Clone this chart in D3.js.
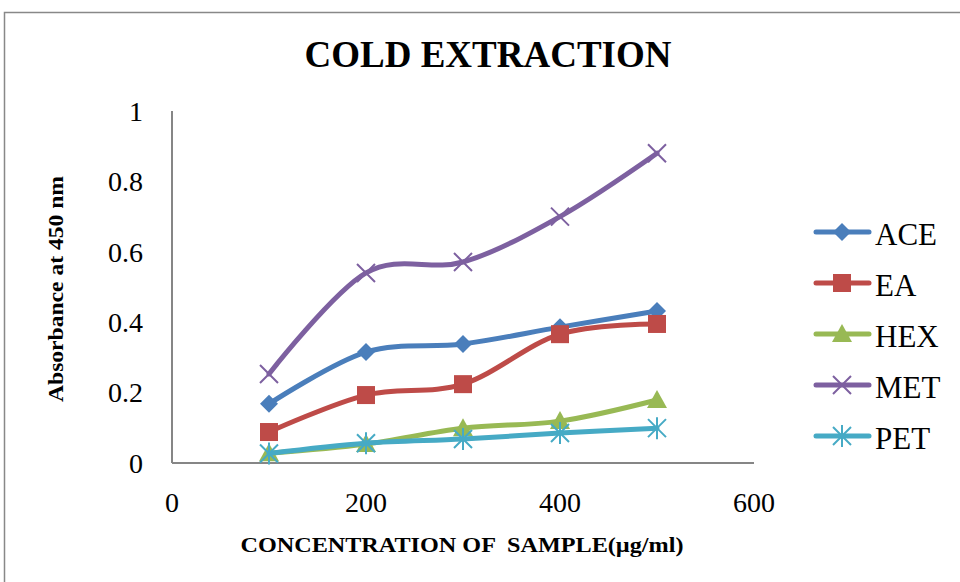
<!DOCTYPE html>
<html>
<head>
<meta charset="utf-8">
<script src="https://cdn.jsdelivr.net/npm/d3@7"></script>
<style>
  body { margin: 0; background: #fff; }
  svg text { font-family: "Liberation Serif", "Times New Roman", serif; fill: #000; }
</style>
</head>
<body>
<div id="chart"></div>
<script>
// Data
const concentrations = [100, 200, 300, 400, 500];
const seriesNames = ["ACE", "EA", "HEX", "MET", "PET"];
const ace = [0.168, 0.315, 0.338, 0.386, 0.432];
const ea  = [0.088, 0.193, 0.224, 0.366, 0.395];
const hex = [0.028, 0.054, 0.099, 0.119, 0.179];
const met = [0.253, 0.540, 0.571, 0.700, 0.880];
const pet = [0.027, 0.056, 0.068, 0.085, 0.099];
const xTicks = [0, 200, 400, 600];
const yTicks = [0, 0.2, 0.4, 0.6, 0.8, 1];

const colors = ["#4a7ebb", "#be4b48", "#98b954", "#7d60a0", "#46aac5"];
const values = [ace, ea, hex, met, pet];

const W = 960, H = 582;

let svg = d3.select("#chart").append("svg")
    .attr("width", W)
    .attr("height", H);

// outer frame (runs off the page on right and bottom)
svg.append("rect")
    .attr("x", 4.5).attr("y", 12.5)
    .attr("width", 1000).attr("height", 700)
    .attr("fill", "none")
    .attr("stroke", "#888")
    .attr("stroke-width", 1.5);

let x = d3.scaleLinear().domain([0, 600]).range([172, 754]);
let y = d3.scaleLinear().domain([0, 1]).range([463, 111]);

// axes lines
svg.append("line")
    .attr("x1", x(0)).attr("x2", x(0))
    .attr("y1", y(1)).attr("y2", y(0))
    .style("stroke", "#868686").style("stroke-width", "2px");
svg.append("line")
    .attr("x1", x(0)).attr("x2", x(600))
    .attr("y1", y(0)).attr("y2", y(0))
    .style("stroke", "#868686").style("stroke-width", "2px");

// tick labels
svg.selectAll(".ytick")
    .data(yTicks)
    .join("text")
    .attr("class", "ytick")
    .attr("x", 143)
    .attr("y", d => y(d))
    .attr("dy", "0.35em")
    .attr("text-anchor", "end")
    .style("font-size", "28px")
    .text(d => d3.format("~g")(d));

svg.selectAll(".xtick")
    .data(xTicks)
    .join("text")
    .attr("class", "xtick")
    .attr("x", d => x(d))
    .attr("y", 512)
    .attr("text-anchor", "middle")
    .style("font-size", "28px")
    .text(d => d);

// titles
svg.append("text")
    .attr("x", 488).attr("y", 67)
    .attr("text-anchor", "middle")
    .style("font-size", "37px")
    .style("font-weight", "bold")
    .text("COLD EXTRACTION");

svg.append("text")
    .attr("transform", "translate(63,289) rotate(-90)")
    .attr("text-anchor", "middle")
    .attr("textLength", 226)
    .attr("lengthAdjust", "spacingAndGlyphs")
    .style("font-size", "21px")
    .style("font-weight", "bold")
    .text("Absorbance at 450 nm");

svg.append("text")
    .attr("x", 462).attr("y", 552)
    .attr("text-anchor", "middle")
    .attr("textLength", 443)
    .attr("lengthAdjust", "spacingAndGlyphs")
    .attr("xml:space", "preserve")
    .style("font-size", "21px")
    .style("font-weight", "bold")
    .text("CONCENTRATION OF  SAMPLE(\u00b5g/ml)");

// marker drawing
function marker(g, name, color) {
  if (name === "ACE") {
    g.append("path").attr("d", "M0,-9L9,0L0,9L-9,0Z").attr("fill", color);
  } else if (name === "EA") {
    g.append("rect").attr("x", -9).attr("y", -9).attr("width", 18).attr("height", 18).attr("fill", color);
  } else if (name === "HEX") {
    g.append("path").attr("d", "M0,-10L10,8L-10,8Z").attr("fill", color);
  } else if (name === "MET") {
    g.append("path").attr("d", "M-9,-9L9,9M-9,9L9,-9").attr("stroke", color).attr("stroke-width", 2);
  } else {
    g.append("path").attr("d", "M-9,-9L9,9M-9,9L9,-9M0,-11L0,11").attr("stroke", color).attr("stroke-width", 2);
  }
}

let line = d3.line()
    .x(d => x(d[0]))
    .y(d => y(d[1]))
    .curve(d3.curveCatmullRom.alpha(0));

seriesNames.forEach((name, i) => {
  let pts = concentrations.map((c, j) => [c, values[i][j]]);
  svg.append("path")
      .datum(pts)
      .attr("d", line)
      .attr("fill", "none")
      .attr("stroke", colors[i])
      .attr("stroke-width", 5)
      .attr("stroke-linecap", "round");
  pts.forEach(p => {
    let g = svg.append("g").attr("transform", "translate(" + x(p[0]) + "," + y(p[1]) + ")");
    marker(g, name, colors[i]);
  });
});

// Legend
let legend = svg.append("g").attr("id", "legend");
seriesNames.forEach((name, i) => {
  let ly = 232 + i * 51;
  legend.append("line")
      .attr("x1", 816).attr("x2", 869)
      .attr("y1", ly).attr("y2", ly)
      .attr("stroke", colors[i])
      .attr("stroke-width", 5)
      .attr("stroke-linecap", "round");
  let g = legend.append("g").attr("transform", "translate(842," + ly + ")");
  marker(g, name, colors[i]);
  legend.append("text")
      .attr("x", 875).attr("y", ly + 2)
      .attr("dy", "0.35em")
      .style("font-size", "31px")
      .text(name);
});
</script>
</body>
</html>
